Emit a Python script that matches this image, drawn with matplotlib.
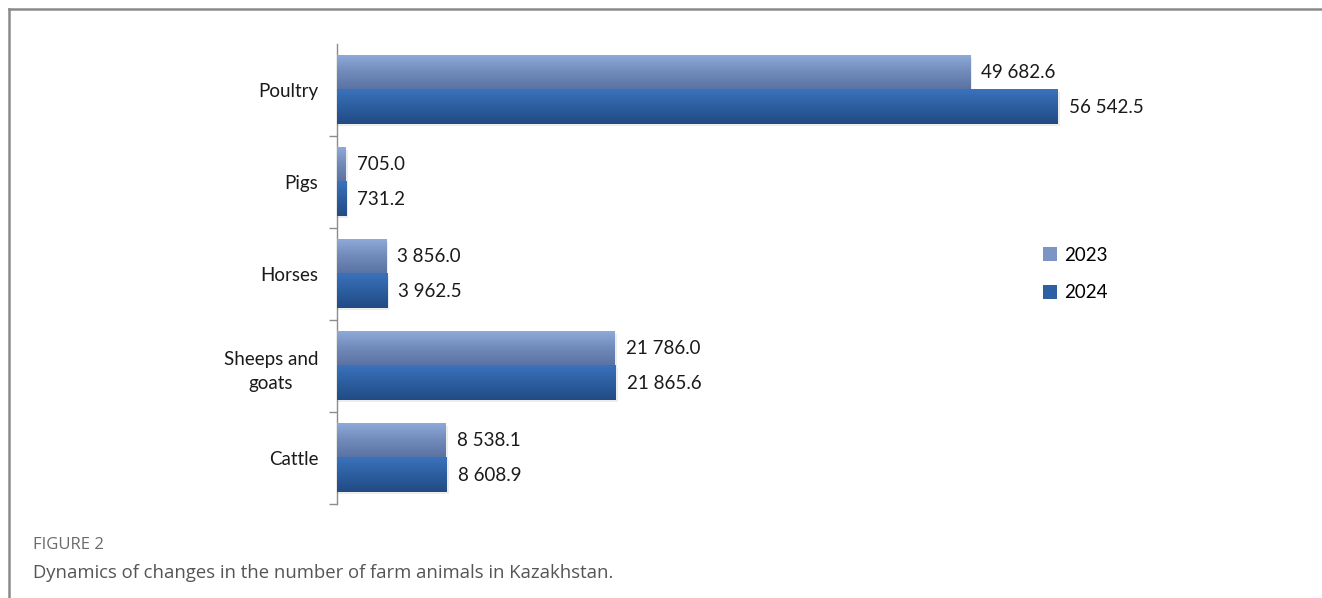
import matplotlib
matplotlib.use("Agg")
import matplotlib.pyplot as plt
import numpy as np
from matplotlib.colors import LinearSegmentedColormap
from matplotlib.lines import Line2D
from matplotlib.patches import Patch

categories = ["Cattle", "Sheeps and\ngoats", "Horses", "Pigs", "Poultry"]
values_2023 = [8538.1, 21786.0, 3856.0, 705.0, 49682.6]
values_2024 = [8608.9, 21865.6, 3962.5, 731.2, 56542.5]
series_names = ["2023", "2024"]

W, H = 1322, 598
fig = plt.figure(figsize=(W / 100, H / 100), dpi=100)
plt.rcParams['font.family'] = ['Lato', 'DejaVu Sans']

ax = fig.add_axes([337 / W, (H - 504) / H, 900 / W, 460 / H])

y = np.arange(len(categories))
bh = 0.37
b23 = ax.barh(y + bh / 2, values_2023, height=bh, color="#7690c2", zorder=2)
b24 = ax.barh(y - bh / 2, values_2024, height=bh, color="#2e62a8", zorder=2)

xmax = 900 / 0.01275
ax.set_xlim(0, xmax)
ax.set_ylim(-0.5, len(categories) - 0.5)

cm23 = LinearSegmentedColormap.from_list("c23", ["#5a72a2", "#6f89b9", "#8eaad9"])
cm24 = LinearSegmentedColormap.from_list("c24", ["#224b85", "#2c5e9f", "#3a72bd"])
grad = np.linspace(0, 1, 64).reshape(-1, 1)
for bars, cm in ((b23, cm23), (b24, cm24)):
    for p in bars:
        x0, y0 = p.get_x(), p.get_y()
        w, h = p.get_width(), p.get_height()
        # soft shadow
        ax.add_patch(plt.Rectangle((x0, y0 - 0.02), w + xmax * 0.002, h,
                                   color="#c4c4c4", alpha=0.3, lw=0, zorder=1))
        ax.imshow(grad, cmap=cm, aspect="auto", origin="lower",
                  extent=[x0, x0 + w, y0, y0 + h], zorder=3, interpolation="bilinear")
ax.set_xlim(0, xmax)
ax.set_ylim(-0.5, len(categories) - 0.5)

def fmt(v):
    return f"{v:,.1f}".replace(",", " ")

for bars, vals in ((b23, values_2023), (b24, values_2024)):
    for p, v in zip(bars, vals):
        ax.text(p.get_width() + xmax * 0.012, p.get_y() + p.get_height() / 2, fmt(v),
                va="center", ha="left", fontsize=13.5, color="#1a1a1a", zorder=4)

for s in ("top", "right", "bottom"):
    ax.spines[s].set_visible(False)
ax.spines["left"].set_color("#8c8c8c")
ax.spines["left"].set_linewidth(1.0)
ax.set_xticks([])
ax.set_yticks(y)
ax.set_yticklabels(categories, fontsize=13.5, color="#1a1a1a")
for t in ax.get_yticklabels():
    t.set_multialignment("center")
    t.set_linespacing(1.55)
ax.tick_params(axis="y", which="major", length=0, pad=13.5)
ax.set_yticks(np.arange(-0.5, len(categories) - 0.5, 1.0), minor=True)
ax.tick_params(axis="y", which="minor", length=6, color="#8c8c8c", width=1.0)

handles = [Patch(facecolor="#7b95c6"), Patch(facecolor="#2d5fa3")]
fig.legend(handles, series_names, loc="center left",
           bbox_to_anchor=(1026 / W, 1 - 274 / H), frameon=False,
           fontsize=13.5, handlelength=0.75, handleheight=0.75,
           handletextpad=0.4, labelspacing=1.1)

# outer frame (top and left)
fig.add_artist(Line2D([9 / W, 1.0], [1 - 9 / H, 1 - 9 / H], color="#8a8a8a", lw=1.8))
fig.add_artist(Line2D([9 / W, 9 / W], [1 - 9 / H, 0], color="#8a8a8a", lw=1.8))

fig.text(33 / W, 1 - 545 / H, "FIGURE 2", fontsize=12, color="#6a6a6a",
         family=["Open Sans", "DejaVu Sans"], va="center", ha="left")
fig.text(33 / W, 1 - 573 / H, "Dynamics of changes in the number of farm animals in Kazakhstan.",
         fontsize=13.3, color="#555555", family=["Open Sans", "DejaVu Sans"],
         va="center", ha="left")

fig.savefig("out.png", dpi=100)
